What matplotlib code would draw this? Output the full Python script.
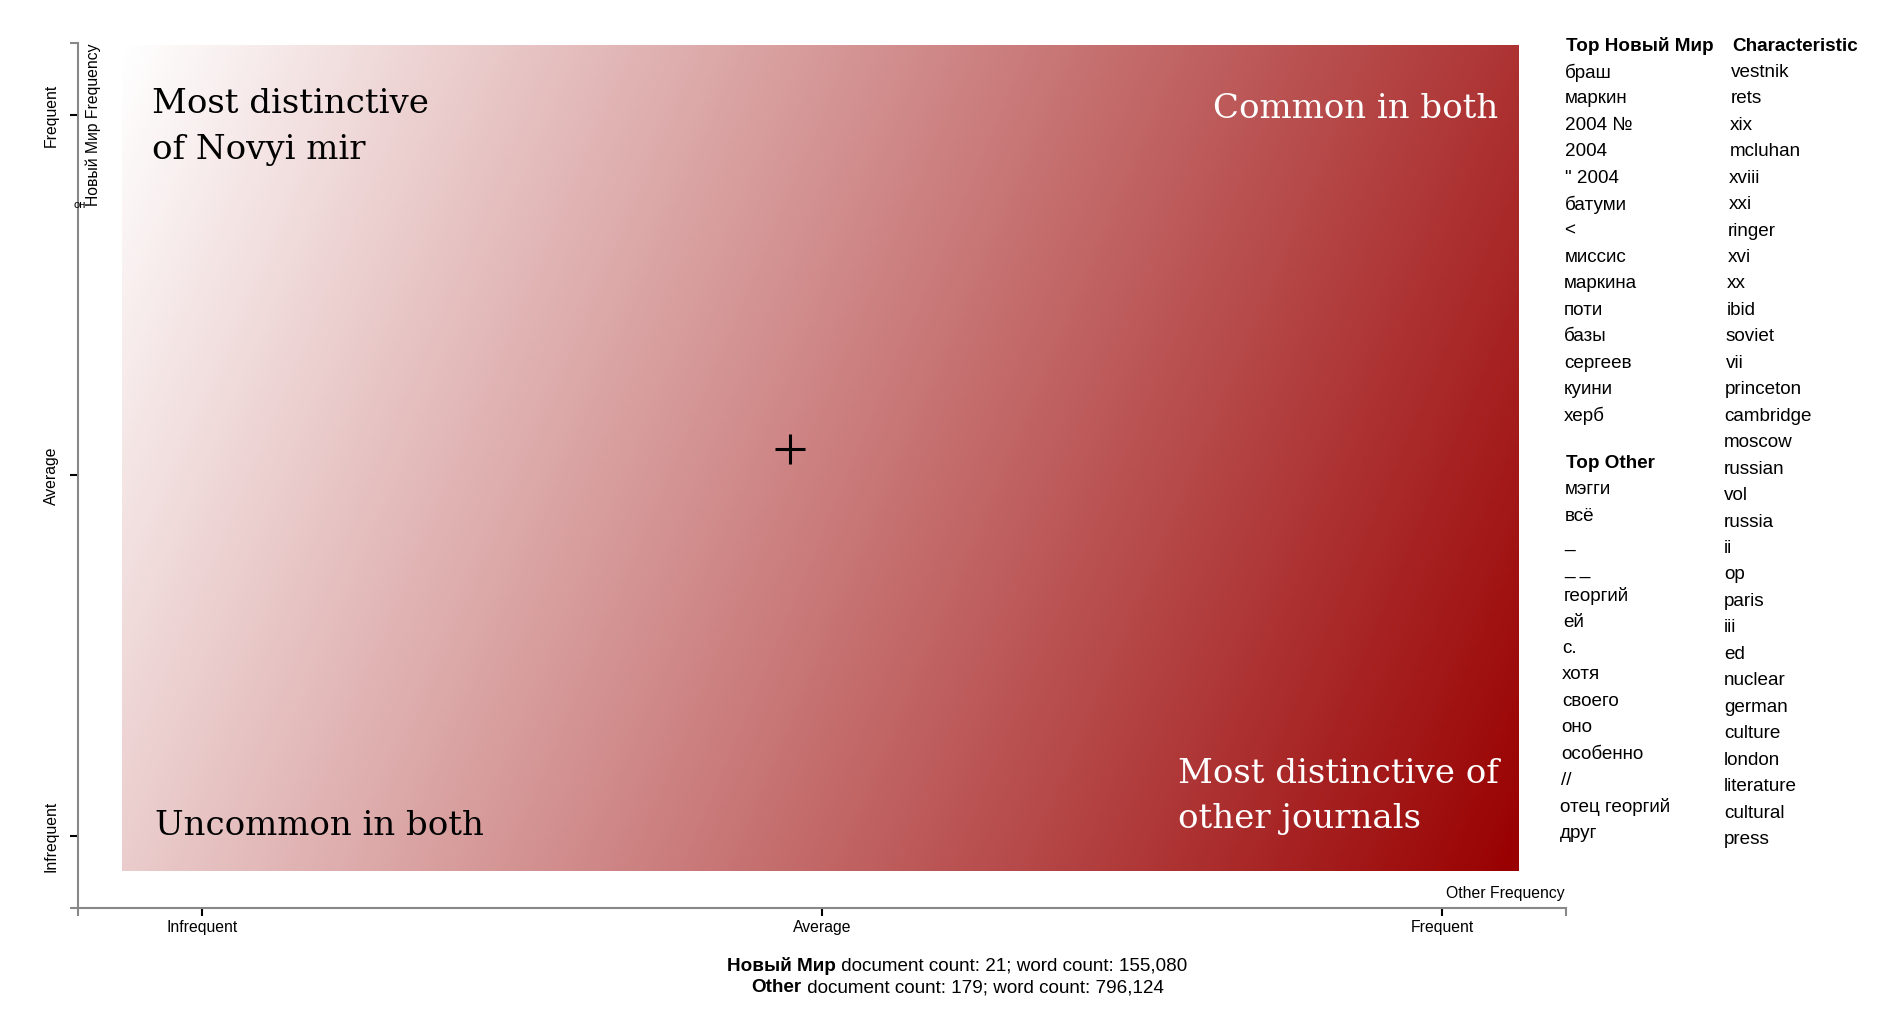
import numpy as np
import matplotlib
matplotlib.use("Agg")
import matplotlib.pyplot as plt
from matplotlib.colors import LinearSegmentedColormap

plt.rcParams['font.family'] = ['Liberation Sans', 'DejaVu Sans']

# ================== DATA ==================
top_novyi_mir = ["браш", "маркин", "2004 №", "2004", "\" 2004", "батуми", "<",
                 "миссис", "маркина", "поти", "базы", "сергеев", "куини", "херб"]
top_other = ["мэгги", "всё", "_", "_ _", "георгий", "ей", "с.", "хотя",
             "своего", "оно", "особенно", "//", "отец георгий", "друг"]
characteristic = ["vestnik", "rets", "xix", "mcluhan", "xviii", "xxi", "ringer",
                  "xvi", "xx", "ibid", "soviet", "vii", "princeton", "cambridge",
                  "moscow", "russian", "vol", "russia", "ii", "op", "paris", "iii",
                  "ed", "nuclear", "german", "culture", "london", "literature",
                  "cultural", "press"]
freq_ticks = [0, 0.5, 1]
freq_labels = ["Infrequent", "Average", "Frequent"]
center_point = [0.474, 0.537]
novyi_mir_docs, novyi_mir_words = 21, 155080
other_docs, other_words = 179, 796124

# ================== LAYOUT (pixels) ==================
W, H = 1893, 1022


def fx(x):
    return x / W


def fy(y):
    return 1 - y / H


fig = plt.figure(figsize=(W / 100, H / 100), dpi=100)

# gradient background
bg = fig.add_axes([fx(122), fy(871), (1519 - 122) / W, (871 - 45) / H], zorder=0)
xf = np.linspace(0, 1, 700)
yf = np.linspace(0, 1, 420)
grad = 0.8 * xf[None, :] + 0.2 * yf[:, None]
cmap = LinearSegmentedColormap.from_list("wr", ["#ffffff", "#990000"])
bg.imshow(grad, cmap=cmap, vmin=0, vmax=1, aspect="auto", origin="upper",
          extent=(0, 1, 0, 1), interpolation="bilinear")
bg.axis("off")

# main axes
ax = fig.add_axes([fx(78), fy(908), (1566 - 78) / W, (908 - 43) / H], zorder=1)
ax.patch.set_alpha(0)
ax.set_xlim(-0.1, 1.1)
ax.set_ylim(-0.1, 1.1)
for s in ["top", "right"]:
    ax.spines[s].set_visible(False)
for s in ["left", "bottom"]:
    ax.spines[s].set_color("#888888")
    ax.spines[s].set_linewidth(1.5)

ax.set_xticks(freq_ticks, freq_labels, fontsize=11.3)
ax.set_yticks(freq_ticks, freq_labels, fontsize=11.3, rotation=90, va="center")
ax.set_xticks([-0.1, 1.1], minor=True)
ax.set_yticks([-0.1, 1.1], minor=True)
ax.tick_params(which="major", color="black", length=5.8, width=1.5)
ax.tick_params(axis="x", which="major", pad=3)
ax.tick_params(axis="y", which="major", pad=8)
ax.tick_params(which="minor", color="#888888", length=5.8, width=1.5,
               labelbottom=False, labelleft=False)

ax.plot(center_point[0], center_point[1], marker="+", ms=21, mew=2.2,
        color="black", linestyle="none")

fig.text(fx(1505), fy(893), "Other Frequency", fontsize=11.3,
         ha="center", va="center")
fig.text(fx(93), fy(43), "Новый Мир Frequency", fontsize=11.3,
         rotation=90, ha="center", va="top")
fig.text(fx(74), fy(205), "он", fontsize=8, ha="left", va="center")

# corner labels
serif = "DejaVu Serif"
fs_corner = 24.5
fig.text(fx(152), fy(113), "Most distinctive", family=serif, fontsize=fs_corner,
         color="black", va="baseline")
fig.text(fx(152), fy(159), "of Novyi mir", family=serif, fontsize=fs_corner,
         color="black", va="baseline")
fig.text(fx(1498), fy(118), "Common in both", family=serif, fontsize=fs_corner,
         color="white", ha="right", va="baseline")
fig.text(fx(155), fy(835), "Uncommon in both", family=serif, fontsize=fs_corner,
         color="black", va="baseline")
fig.text(fx(1178), fy(783), "Most distinctive of", family=serif, fontsize=fs_corner,
         color="white", va="baseline")
fig.text(fx(1178), fy(828), "other journals", family=serif, fontsize=fs_corner,
         color="white", va="baseline")

# term lists
fs_list = 13.6
row0, row_h = 72.4, 26.45
fig.text(fx(1566), fy(46), "Top Новый Мир", fontsize=fs_list, weight="bold",
         va="center")
for i, w in enumerate(top_novyi_mir):
    fig.text(fx(1565 - i * 0.1), fy(row0 + i * row_h), w, fontsize=fs_list,
             va="center")
fig.text(fx(1566), fy(row0 + 14.78 * row_h), "Top Other", fontsize=fs_list,
         weight="bold", va="center")
for i, w in enumerate(top_other):
    fig.text(fx(1565 - i * 0.4), fy(row0 + (15.78 + i) * row_h), w,
             fontsize=fs_list, va="center")
fig.text(fx(1732), fy(46), "Characteristic", fontsize=fs_list, weight="bold",
         va="center")
for i, w in enumerate(characteristic):
    fig.text(fx(1731 - min(i, 14) * 0.5), fy(row0 + i * row_h), w,
             fontsize=fs_list, va="center")

# footer
fig.canvas.draw()
renderer = fig.canvas.get_renderer()
footer = [("Новый Мир", f" document count: {novyi_mir_docs}; word count: {novyi_mir_words:,}", 966),
          ("Other", f" document count: {other_docs}; word count: {other_words:,}", 988)]
for bold, rest, ypix in footer:
    t1 = fig.text(0, fy(ypix), bold, fontsize=fs_list, weight="bold", va="center")
    t2 = fig.text(0, fy(ypix), rest, fontsize=fs_list, va="center")
    w1 = t1.get_window_extent(renderer).width
    w2 = t2.get_window_extent(renderer).width
    x0 = 957.5 - (w1 + w2) / 2
    t1.set_x(fx(x0))
    t2.set_x(fx(x0 + w1))

fig.savefig("out.png", dpi=100)
